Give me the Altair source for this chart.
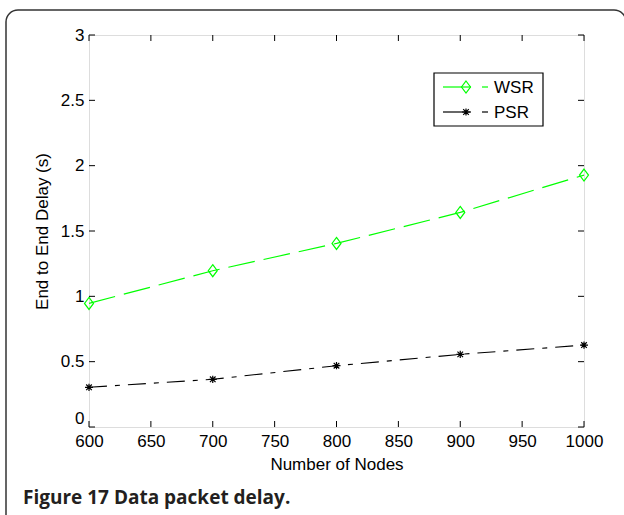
import altair as alt
import pandas as pd

# ---- data ----
nodes = [600, 700, 800, 900, 1000]
wsr = [0.946, 1.196, 1.405, 1.642, 1.928]
psr = [0.304, 0.365, 0.469, 0.556, 0.627]
x_ticks = [600, 650, 700, 750, 800, 850, 900, 950, 1000]
y_ticks = [0, 0.5, 1, 1.5, 2, 2.5, 3]
series_names = ["WSR", "PSR"]
caption = "Figure 17 Data packet delay."

W, H = 495, 392
FONT = "Liberation Sans"
GREEN = "#00ff00"

wsr_df = pd.DataFrame({"nodes": nodes, "delay": wsr})
psr_df = pd.DataFrame({"nodes": nodes, "delay": psr})
xt_df = pd.DataFrame({"v": x_ticks})
yt_df = pd.DataFrame({"v": y_ticks})
one = alt.Data(values=[{"a": 1}])

xs = alt.Scale(domain=[600, 1000], nice=False, zero=False)
ys = alt.Scale(domain=[0, 3], nice=False)

x_enc = alt.X("nodes:Q", scale=xs, axis=alt.Axis(
    values=x_ticks, labelExpr="datum.value", labelFlush=False, labelOverlap=False,
    tickSize=0, domain=False, grid=False, labelPadding=6,
    labelFontSize=17, labelFont=FONT, labelColor="#000", title="Number of Nodes",
    titleFont=FONT, titleFontSize=17, titleFontWeight="normal", titleColor="#000",
    titlePadding=7))
y_enc = alt.Y("delay:Q", scale=ys, axis=alt.Axis(
    values=y_ticks, labelExpr="datum.value", labelFlush=False, labelOverlap=False,
    labelBaseline={"condition": {"test": "datum.value == 0", "value": "bottom"}, "value": "middle"},
    tickSize=0, domain=False, grid=False,
    labelPadding=5, labelFontSize=17, labelFont=FONT, labelColor="#000",
    title="End to End Delay (s)", titleFont=FONT, titleFontSize=17,
    titleFontWeight="normal", titleColor="#000", titlePadding=9))

diamond = "M0,-1.2L0.9,0L0,1.2L-0.9,0Z"
asterisk = "M-1,0L1,0M0,-0.9L0,0.9M-0.7,-0.7L0.7,0.7M-0.7,0.7L0.7,-0.7"

wsr_line = alt.Chart(wsr_df).mark_line(color=GREEN, strokeWidth=1.2, strokeDash=[27, 9]).encode(x=x_enc, y=y_enc)
wsr_pts = alt.Chart(wsr_df).mark_point(shape=diamond, size=100, color=GREEN, filled=False, strokeWidth=1.2, opacity=1).encode(x="nodes:Q", y="delay:Q")
psr_line = alt.Chart(psr_df).mark_line(color="#000", strokeWidth=1.1, strokeDash=[18, 8, 5, 8]).encode(x="nodes:Q", y="delay:Q")
psr_pts = alt.Chart(psr_df).mark_point(shape=asterisk, size=64, color="#000", filled=False, strokeWidth=1.2, opacity=1).encode(x="nodes:Q", y="delay:Q")

# inside ticks on all four sides (MATLAB box)
tb = alt.Chart(xt_df).mark_rule(color="#000", strokeWidth=1).encode(x=alt.X("v:Q", scale=xs), y=alt.value(H), y2=alt.value(H - 6))
tt = alt.Chart(xt_df).mark_rule(color="#000", strokeWidth=1).encode(x=alt.X("v:Q", scale=xs), y=alt.value(0), y2=alt.value(6))
tl = alt.Chart(yt_df).mark_rule(color="#000", strokeWidth=1).encode(y=alt.Y("v:Q", scale=ys), x=alt.value(0), x2=alt.value(6))
tr = alt.Chart(yt_df).mark_rule(color="#000", strokeWidth=1).encode(y=alt.Y("v:Q", scale=ys), x=alt.value(W), x2=alt.value(W - 6))

# legend box
leg_box = alt.Chart(one).mark_rect(fill="white", stroke="#000", strokeWidth=1.2).encode(
    x=alt.value(345), x2=alt.value(454), y=alt.value(38), y2=alt.value(91))
leg = [leg_box]
for name, yy, col, shp, sz in [(series_names[0], 52, GREEN, diamond, 100), (series_names[1], 77, "#000", asterisk, 64)]:
    leg.append(alt.Chart(one).mark_rule(color=col, strokeWidth=1.2).encode(x=alt.value(354), x2=alt.value(382), y=alt.value(yy)))
    leg.append(alt.Chart(one).mark_rule(color=col, strokeWidth=1.2).encode(x=alt.value(393), x2=alt.value(399), y=alt.value(yy)))
    leg.append(alt.Chart(one).mark_point(shape=shp, size=sz, color=col, filled=False, strokeWidth=1.2, opacity=1).encode(x=alt.value(377), y=alt.value(yy)))
    leg.append(alt.Chart(one).mark_text(text=name, font=FONT, fontSize=17, align="left", baseline="middle", color="#000").encode(x=alt.value(405), y=alt.value(yy + 1)))

# figure frame and caption
frame = alt.Chart(one).mark_rect(fill=None, stroke="#333", strokeWidth=1.5, cornerRadius=12).encode(
    x=alt.value(-83), x2=alt.value(537), y=alt.value(-25), y2=alt.value(500))
cap = alt.Chart(one).mark_text(text=caption, font="Open Sans", fontWeight="bold", fontSize=19,
                               align="left", baseline="alphabetic", color="#231f20").encode(
    x=alt.value(-66), y=alt.value(469))

chart = alt.layer(frame, wsr_line, wsr_pts, psr_line, psr_pts, tb, tt, tl, tr, *leg, cap).properties(
    width=W, height=H,
    autosize=alt.AutoSizeParams(type="none"),
    padding={"left": 89, "top": 35, "right": 40, "bottom": 88},
).configure_view(stroke="#000", strokeWidth=1.2).configure(background="white")

chart.save("out.html", embed_options={"renderer": "svg", "actions": False})
